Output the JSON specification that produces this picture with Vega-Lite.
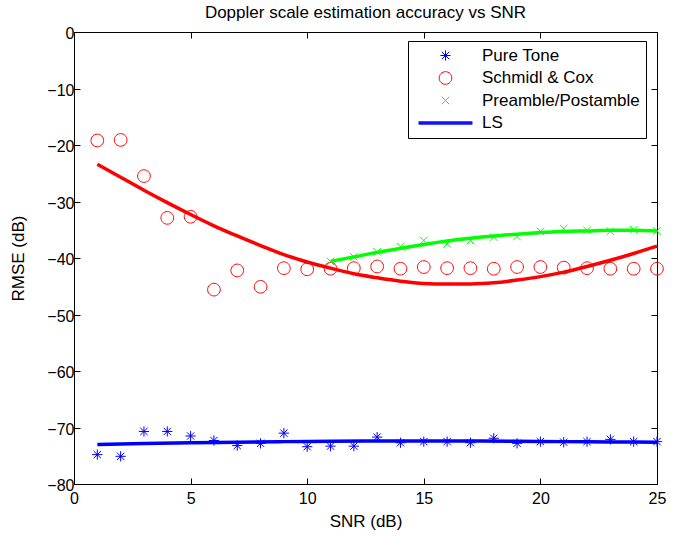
{
  "$schema": "https://vega.github.io/schema/vega-lite/v6.json",
  "width": 583,
  "height": 452,
  "autosize": {"type": "none"},
  "padding": {"left": 74, "top": 32, "right": 38, "bottom": 52},
  "background": "white",
  "config": {
    "view": {"stroke": null},
    "font": "Liberation Sans",
    "axis": {
      "grid": false,
      "domainColor": "black",
      "domainWidth": 1,
      "tickColor": "black",
      "tickWidth": 1,
      "tickSize": -6,
      "labelFlush": false,
      "labelOverlap": false,
      "labelFont": "Liberation Sans",
      "labelFontSize": 16,
      "labelColor": "black",
      "titleFont": "Liberation Sans",
      "titleFontSize": 17,
      "titleFontWeight": "normal",
      "titleColor": "black"
    },
    "legend": {
      "title": null,
      "orient": "none",
      "legendX": 334,
      "legendY": 9,
      "direction": "vertical",
      "strokeColor": "black",
      "fillColor": "white",
      "padding": 6,
      "labelFont": "Liberation Sans",
      "labelFontSize": 17,
      "labelColor": "black",
      "labelOffset": 9,
      "symbolOffset": 4,
      "symbolSize": 2900,
      "symbolStrokeWidth": 1,
      "clipHeight": 17,
      "rowPadding": 4.5
    }
  },
  "title": {
    "text": "Doppler scale estimation accuracy vs SNR",
    "font": "Liberation Sans",
    "fontSize": 17,
    "fontWeight": "normal",
    "color": "black",
    "anchor": "middle",
    "offset": 4
  },
  "datasets": {
    "rmse": [
      {"snr": 1, "rmse": -74.8, "series": "Pure Tone", "kind": "point"},
      {"snr": 2, "rmse": -75.1, "series": "Pure Tone", "kind": "point"},
      {"snr": 3, "rmse": -70.7, "series": "Pure Tone", "kind": "point"},
      {"snr": 4, "rmse": -70.7, "series": "Pure Tone", "kind": "point"},
      {"snr": 5, "rmse": -71.5, "series": "Pure Tone", "kind": "point"},
      {"snr": 6, "rmse": -72.3, "series": "Pure Tone", "kind": "point"},
      {"snr": 7, "rmse": -73.2, "series": "Pure Tone", "kind": "point"},
      {"snr": 8, "rmse": -72.8, "series": "Pure Tone", "kind": "point"},
      {"snr": 9, "rmse": -71.0, "series": "Pure Tone", "kind": "point"},
      {"snr": 10, "rmse": -73.4, "series": "Pure Tone", "kind": "point"},
      {"snr": 11, "rmse": -73.3, "series": "Pure Tone", "kind": "point"},
      {"snr": 12, "rmse": -73.3, "series": "Pure Tone", "kind": "point"},
      {"snr": 13, "rmse": -71.7, "series": "Pure Tone", "kind": "point"},
      {"snr": 14, "rmse": -72.7, "series": "Pure Tone", "kind": "point"},
      {"snr": 15, "rmse": -72.5, "series": "Pure Tone", "kind": "point"},
      {"snr": 16, "rmse": -72.5, "series": "Pure Tone", "kind": "point"},
      {"snr": 17, "rmse": -72.7, "series": "Pure Tone", "kind": "point"},
      {"snr": 18, "rmse": -71.9, "series": "Pure Tone", "kind": "point"},
      {"snr": 19, "rmse": -72.8, "series": "Pure Tone", "kind": "point"},
      {"snr": 20, "rmse": -72.5, "series": "Pure Tone", "kind": "point"},
      {"snr": 21, "rmse": -72.6, "series": "Pure Tone", "kind": "point"},
      {"snr": 22, "rmse": -72.5, "series": "Pure Tone", "kind": "point"},
      {"snr": 23, "rmse": -72.1, "series": "Pure Tone", "kind": "point"},
      {"snr": 24, "rmse": -72.5, "series": "Pure Tone", "kind": "point"},
      {"snr": 25, "rmse": -72.5, "series": "Pure Tone", "kind": "point"},

      {"snr": 1, "rmse": -19.2, "series": "Schmidl & Cox", "kind": "point"},
      {"snr": 2, "rmse": -19.1, "series": "Schmidl & Cox", "kind": "point"},
      {"snr": 3, "rmse": -25.5, "series": "Schmidl & Cox", "kind": "point"},
      {"snr": 4, "rmse": -32.9, "series": "Schmidl & Cox", "kind": "point"},
      {"snr": 5, "rmse": -32.7, "series": "Schmidl & Cox", "kind": "point"},
      {"snr": 6, "rmse": -45.6, "series": "Schmidl & Cox", "kind": "point"},
      {"snr": 7, "rmse": -42.2, "series": "Schmidl & Cox", "kind": "point"},
      {"snr": 8, "rmse": -45.1, "series": "Schmidl & Cox", "kind": "point"},
      {"snr": 9, "rmse": -41.8, "series": "Schmidl & Cox", "kind": "point"},
      {"snr": 10, "rmse": -42.0, "series": "Schmidl & Cox", "kind": "point"},
      {"snr": 11, "rmse": -41.9, "series": "Schmidl & Cox", "kind": "point"},
      {"snr": 12, "rmse": -41.8, "series": "Schmidl & Cox", "kind": "point"},
      {"snr": 13, "rmse": -41.5, "series": "Schmidl & Cox", "kind": "point"},
      {"snr": 14, "rmse": -41.9, "series": "Schmidl & Cox", "kind": "point"},
      {"snr": 15, "rmse": -41.6, "series": "Schmidl & Cox", "kind": "point"},
      {"snr": 16, "rmse": -41.8, "series": "Schmidl & Cox", "kind": "point"},
      {"snr": 17, "rmse": -41.8, "series": "Schmidl & Cox", "kind": "point"},
      {"snr": 18, "rmse": -41.9, "series": "Schmidl & Cox", "kind": "point"},
      {"snr": 19, "rmse": -41.6, "series": "Schmidl & Cox", "kind": "point"},
      {"snr": 20, "rmse": -41.6, "series": "Schmidl & Cox", "kind": "point"},
      {"snr": 21, "rmse": -41.7, "series": "Schmidl & Cox", "kind": "point"},
      {"snr": 22, "rmse": -41.8, "series": "Schmidl & Cox", "kind": "point"},
      {"snr": 23, "rmse": -41.9, "series": "Schmidl & Cox", "kind": "point"},
      {"snr": 24, "rmse": -41.9, "series": "Schmidl & Cox", "kind": "point"},
      {"snr": 25, "rmse": -41.9, "series": "Schmidl & Cox", "kind": "point"},

      {"snr": 11, "rmse": -40.6, "series": "Preamble/Postamble", "kind": "point"},
      {"snr": 12, "rmse": -39.8, "series": "Preamble/Postamble", "kind": "point"},
      {"snr": 13, "rmse": -38.9, "series": "Preamble/Postamble", "kind": "point"},
      {"snr": 14, "rmse": -38.0, "series": "Preamble/Postamble", "kind": "point"},
      {"snr": 15, "rmse": -36.9, "series": "Preamble/Postamble", "kind": "point"},
      {"snr": 16, "rmse": -37.5, "series": "Preamble/Postamble", "kind": "point"},
      {"snr": 17, "rmse": -36.9, "series": "Preamble/Postamble", "kind": "point"},
      {"snr": 18, "rmse": -36.3, "series": "Preamble/Postamble", "kind": "point"},
      {"snr": 19, "rmse": -36.2, "series": "Preamble/Postamble", "kind": "point"},
      {"snr": 20, "rmse": -35.3, "series": "Preamble/Postamble", "kind": "point"},
      {"snr": 21, "rmse": -34.8, "series": "Preamble/Postamble", "kind": "point"},
      {"snr": 22, "rmse": -35.1, "series": "Preamble/Postamble", "kind": "point"},
      {"snr": 23, "rmse": -35.3, "series": "Preamble/Postamble", "kind": "point"},
      {"snr": 24, "rmse": -35.0, "series": "Preamble/Postamble", "kind": "point"},
      {"snr": 25, "rmse": -35.2, "series": "Preamble/Postamble", "kind": "point"},

      {"snr": 1, "rmse": -73.0, "series": "Pure Tone", "kind": "fit"},
      {"snr": 3, "rmse": -72.85, "series": "Pure Tone", "kind": "fit"},
      {"snr": 5, "rmse": -72.7, "series": "Pure Tone", "kind": "fit"},
      {"snr": 7, "rmse": -72.6, "series": "Pure Tone", "kind": "fit"},
      {"snr": 9, "rmse": -72.5, "series": "Pure Tone", "kind": "fit"},
      {"snr": 11, "rmse": -72.45, "series": "Pure Tone", "kind": "fit"},
      {"snr": 13, "rmse": -72.4, "series": "Pure Tone", "kind": "fit"},
      {"snr": 15, "rmse": -72.4, "series": "Pure Tone", "kind": "fit"},
      {"snr": 17, "rmse": -72.4, "series": "Pure Tone", "kind": "fit"},
      {"snr": 19, "rmse": -72.45, "series": "Pure Tone", "kind": "fit"},
      {"snr": 21, "rmse": -72.5, "series": "Pure Tone", "kind": "fit"},
      {"snr": 23, "rmse": -72.55, "series": "Pure Tone", "kind": "fit"},
      {"snr": 25, "rmse": -72.6, "series": "Pure Tone", "kind": "fit"},

      {"snr": 1, "rmse": -23.4, "series": "Schmidl & Cox", "kind": "fit"},
      {"snr": 2, "rmse": -25.7, "series": "Schmidl & Cox", "kind": "fit"},
      {"snr": 3, "rmse": -28.0, "series": "Schmidl & Cox", "kind": "fit"},
      {"snr": 4, "rmse": -30.2, "series": "Schmidl & Cox", "kind": "fit"},
      {"snr": 5, "rmse": -32.3, "series": "Schmidl & Cox", "kind": "fit"},
      {"snr": 6, "rmse": -34.3, "series": "Schmidl & Cox", "kind": "fit"},
      {"snr": 7, "rmse": -36.1, "series": "Schmidl & Cox", "kind": "fit"},
      {"snr": 8, "rmse": -37.8, "series": "Schmidl & Cox", "kind": "fit"},
      {"snr": 9, "rmse": -39.4, "series": "Schmidl & Cox", "kind": "fit"},
      {"snr": 10, "rmse": -40.7, "series": "Schmidl & Cox", "kind": "fit"},
      {"snr": 11, "rmse": -41.8, "series": "Schmidl & Cox", "kind": "fit"},
      {"snr": 12, "rmse": -42.8, "series": "Schmidl & Cox", "kind": "fit"},
      {"snr": 13, "rmse": -43.5, "series": "Schmidl & Cox", "kind": "fit"},
      {"snr": 14, "rmse": -44.1, "series": "Schmidl & Cox", "kind": "fit"},
      {"snr": 15, "rmse": -44.5, "series": "Schmidl & Cox", "kind": "fit"},
      {"snr": 16, "rmse": -44.6, "series": "Schmidl & Cox", "kind": "fit"},
      {"snr": 17, "rmse": -44.6, "series": "Schmidl & Cox", "kind": "fit"},
      {"snr": 18, "rmse": -44.4, "series": "Schmidl & Cox", "kind": "fit"},
      {"snr": 19, "rmse": -43.9, "series": "Schmidl & Cox", "kind": "fit"},
      {"snr": 20, "rmse": -43.3, "series": "Schmidl & Cox", "kind": "fit"},
      {"snr": 21, "rmse": -42.5, "series": "Schmidl & Cox", "kind": "fit"},
      {"snr": 22, "rmse": -41.5, "series": "Schmidl & Cox", "kind": "fit"},
      {"snr": 23, "rmse": -40.4, "series": "Schmidl & Cox", "kind": "fit"},
      {"snr": 24, "rmse": -39.2, "series": "Schmidl & Cox", "kind": "fit"},
      {"snr": 25, "rmse": -37.9, "series": "Schmidl & Cox", "kind": "fit"},

      {"snr": 11, "rmse": -40.6, "series": "Preamble/Postamble", "kind": "fit"},
      {"snr": 12, "rmse": -39.8, "series": "Preamble/Postamble", "kind": "fit"},
      {"snr": 13, "rmse": -39.0, "series": "Preamble/Postamble", "kind": "fit"},
      {"snr": 14, "rmse": -38.3, "series": "Preamble/Postamble", "kind": "fit"},
      {"snr": 15, "rmse": -37.6, "series": "Preamble/Postamble", "kind": "fit"},
      {"snr": 16, "rmse": -37.0, "series": "Preamble/Postamble", "kind": "fit"},
      {"snr": 17, "rmse": -36.5, "series": "Preamble/Postamble", "kind": "fit"},
      {"snr": 18, "rmse": -36.1, "series": "Preamble/Postamble", "kind": "fit"},
      {"snr": 19, "rmse": -35.8, "series": "Preamble/Postamble", "kind": "fit"},
      {"snr": 20, "rmse": -35.5, "series": "Preamble/Postamble", "kind": "fit"},
      {"snr": 21, "rmse": -35.3, "series": "Preamble/Postamble", "kind": "fit"},
      {"snr": 22, "rmse": -35.2, "series": "Preamble/Postamble", "kind": "fit"},
      {"snr": 23, "rmse": -35.1, "series": "Preamble/Postamble", "kind": "fit"},
      {"snr": 24, "rmse": -35.1, "series": "Preamble/Postamble", "kind": "fit"},
      {"snr": 25, "rmse": -35.2, "series": "Preamble/Postamble", "kind": "fit"}
    ]
  },
  "data": {"name": "rmse"},
  "layer": [
    {
      "transform": [{"filter": "datum.kind === 'point'"}],
      "mark": {"type": "point", "filled": false, "size": 2900, "strokeWidth": 1, "opacity": 1},
      "encoding": {
        "x": {
          "field": "snr", "type": "quantitative",
          "scale": {"domain": [0, 25], "nice": false},
          "axis": {"orient": "bottom", "title": "SNR (dB)", "values": [0, 5, 10, 15, 20, 25], "labelPadding": 12, "titlePadding": 7}
        },
        "y": {
          "field": "rmse", "type": "quantitative",
          "scale": {"domain": [-80, 0], "nice": false},
          "axis": {"orient": "left", "title": "RMSE (dB)", "values": [-80, -70, -60, -50, -40, -30, -20, -10, 0], "labelPadding": 6, "labelOffset": 1.5, "titlePadding": 19}
        },
        "color": {
          "field": "series", "type": "nominal",
          "scale": {
            "domain": ["Pure Tone", "Schmidl & Cox", "Preamble/Postamble", "LS"],
            "range": ["#0000ff", "#ff0000", "#00ff00", "#0000ff"]
          }
        },
        "shape": {
          "field": "series", "type": "nominal",
          "scale": {
            "domain": ["Pure Tone", "Schmidl & Cox", "Preamble/Postamble", "LS"],
            "range": [
              "M-0.19,0L0.19,0M0,-0.19L0,0.19M-0.135,-0.135L0.135,0.135M-0.135,0.135L0.135,-0.135",
              "M0.235,0A0.235,0.235 0 1,1 -0.235,0A0.235,0.235 0 1,1 0.235,0Z",
              "M-0.14,-0.14L0.14,0.14M-0.14,0.14L0.14,-0.14",
              "M-1,-0.045L1,-0.045M-1,-0.015L1,-0.015M-1,0.015L1,0.015M-1,0.045L1,0.045"
            ]
          }
        }
      }
    },
    {
      "transform": [{"filter": "datum.kind === 'fit'"}],
      "mark": {"type": "line", "strokeWidth": 3.5, "interpolate": "monotone"},
      "encoding": {
        "x": {
          "field": "snr", "type": "quantitative",
          "axis": {"orient": "top", "labels": false, "title": null, "values": [0, 5, 10, 15, 20, 25]}
        },
        "y": {
          "field": "rmse", "type": "quantitative",
          "axis": {"orient": "right", "labels": false, "title": null, "values": [-80, -70, -60, -50, -40, -30, -20, -10, 0]}
        },
        "color": {"field": "series", "type": "nominal"}
      }
    }
  ]
}
